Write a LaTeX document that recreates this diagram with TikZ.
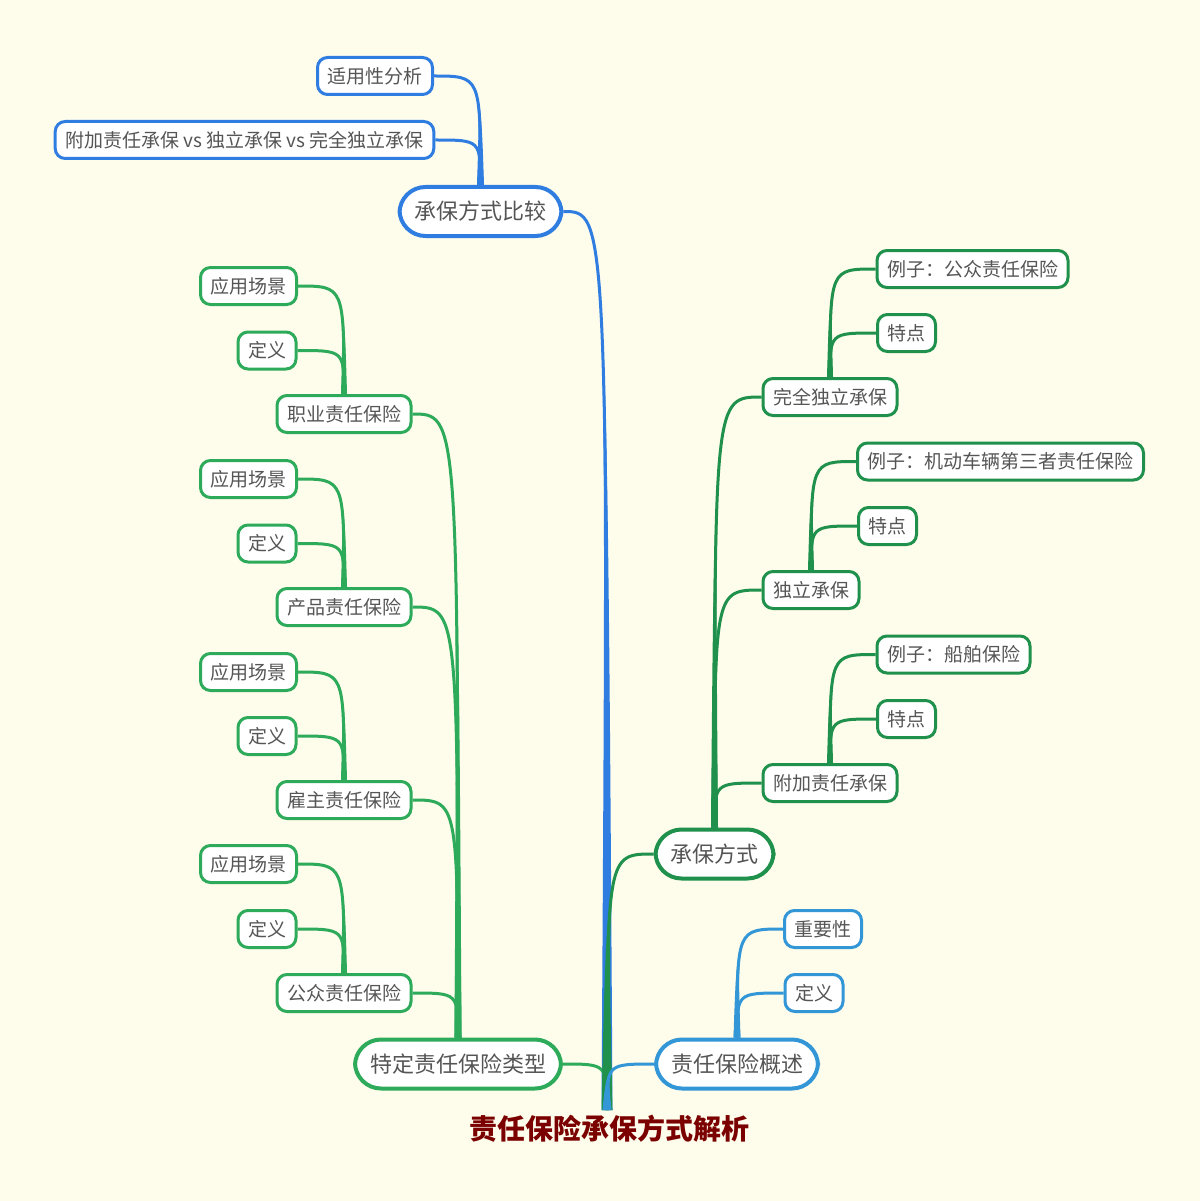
\documentclass[tikz,border=0pt]{standalone}
\usepackage{fontspec}
\setmainfont{Noto Sans CJK SC}
\usetikzlibrary{calc}
\definecolor{bgc}{HTML}{FEFCEB}
\definecolor{cB}{HTML}{2F7DE1}
\definecolor{cG}{HTML}{2EAA5B}
\definecolor{cD}{HTML}{1F914C}
\definecolor{cL}{HTML}{3396D6}
\definecolor{txt}{HTML}{555555}
\definecolor{ttl}{HTML}{7B0000}
\pgfdeclarelayer{back}
\pgfdeclarelayer{paper}
\pgfsetlayers{paper,back,main}
% #1 colour, #2 start, #3 end, #4 half width at end, #5 line width
\newcommand{\conn}[5]{%
  \fill[#1] (#2) .. controls (#3 |- #2) and (#3 |- #2) .. ([xshift=-#4]#3) -- ([xshift=#4]#3) .. controls (#3 |- #2) and (#3 |- #2) .. (#2) -- cycle;
  \draw[#1, line width=#5] (#2) .. controls (#3 |- #2) and (#3 |- #2) .. (#3);
}
\begin{document}
\begin{tikzpicture}[x=1pt,y=-1pt,
  lone/.style={draw=#1, line width=4pt, rounded corners=26pt, fill=white, text=txt,
    font=\fontsize{22pt}{24pt}\selectfont, inner xsep=15pt, minimum height=49pt},
  lthree/.style={draw=#1, line width=3pt, rounded corners=10pt, fill=white, text=txt,
    font=\fontsize{19pt}{21pt}\selectfont, inner xsep=10pt, minimum height=37pt}]
\begin{pgfonlayer}{paper}
\fill[bgc] (0,0) rectangle (1200,1201);
\end{pgfonlayer}
\useasboundingbox (0,0) rectangle (1200,1201);

\coordinate (root) at (607,1110);

% blue branch
\node[lone=cB] (cmp) at (480.5,211.5) {承保方式比较};
\node[lthree=cB] (syx) at (375,76) {适用性分析};
\node[lthree=cB] (vs) at (244.5,140) {附加责任承保 vs 独立承保 vs 完全独立承保};

% green left branch
\node[lone=cG] (tdlx) at (458,1064) {特定责任保险类型};
\node[lthree=cG] (zy) at (344,414) {职业责任保险};
\node[lthree=cG] (zya) at (248.5,286) {应用场景};
\node[lthree=cG] (zyb) at (267,350.5) {定义};
\node[lthree=cG] (cp) at (344,607) {产品责任保险};
\node[lthree=cG] (cpa) at (248.5,479) {应用场景};
\node[lthree=cG] (cpb) at (267,543.5) {定义};
\node[lthree=cG] (gz) at (344,800) {雇主责任保险};
\node[lthree=cG] (gza) at (248.5,672) {应用场景};
\node[lthree=cG] (gzb) at (267,736) {定义};
\node[lthree=cG] (gzh) at (344,993) {公众责任保险};
\node[lthree=cG] (gzha) at (248.5,864) {应用场景};
\node[lthree=cG] (gzhb) at (267,929) {定义};

% dark green branch
\node[lone=cD] (cbfs) at (714.5,854) {承保方式};
\node[lthree=cD] (wq) at (830,397) {完全独立承保};
\node[lthree=cD] (wqa) at (972.5,269) {例子：公众责任保险};
\node[lthree=cD] (wqb) at (906.5,333) {特点};
\node[lthree=cD] (dl) at (811,590) {独立承保};
\node[lthree=cD] (dla) at (1000.5,461.5) {例子：机动车辆第三者责任保险};
\node[lthree=cD] (dlb) at (887.5,526) {特点};
\node[lthree=cD] (fj) at (830,783) {附加责任承保};
\node[lthree=cD] (fja) at (953.5,654.5) {例子：船舶保险};
\node[lthree=cD] (fjb) at (906.5,719) {特点};

% light blue branch
\node[lone=cL] (gs) at (737,1064) {责任保险概述};
\node[lthree=cL] (gsa) at (823,929) {重要性};
\node[lthree=cL] (gsb) at (814,993) {定义};

\node[text=ttl, font=\bfseries\fontsize{28pt}{30pt}\selectfont] (title) at (609,1129) {责任保险承保方式解析};

\begin{pgfonlayer}{back}
\conn{cB}{cmp.east}{root}{5.5pt}{3pt}
\conn{cG}{tdlx.east}{root}{4.5pt}{3pt}
\conn{cD}{cbfs.west}{root}{5.5pt}{3pt}
\conn{cL}{gs.west}{root}{4.5pt}{3pt}

\conn{cB}{syx.east}{cmp.north}{3.5pt}{3pt}
\conn{cB}{vs.east}{cmp.north}{3.5pt}{3pt}

\conn{cG}{zy.east}{tdlx.north}{3.5pt}{3pt}
\conn{cG}{cp.east}{tdlx.north}{3.5pt}{3pt}
\conn{cG}{gz.east}{tdlx.north}{3.5pt}{3pt}
\conn{cG}{gzh.east}{tdlx.north}{3.5pt}{3pt}
\conn{cG}{zya.east}{zy.north}{3pt}{3pt}
\conn{cG}{zyb.east}{zy.north}{3pt}{3pt}
\conn{cG}{cpa.east}{cp.north}{3pt}{3pt}
\conn{cG}{cpb.east}{cp.north}{3pt}{3pt}
\conn{cG}{gza.east}{gz.north}{3pt}{3pt}
\conn{cG}{gzb.east}{gz.north}{3pt}{3pt}
\conn{cG}{gzha.east}{gzh.north}{3pt}{3pt}
\conn{cG}{gzhb.east}{gzh.north}{3pt}{3pt}

\conn{cD}{wq.west}{cbfs.north}{3.5pt}{3pt}
\conn{cD}{dl.west}{cbfs.north}{3.5pt}{3pt}
\conn{cD}{fj.west}{cbfs.north}{3.5pt}{3pt}
\conn{cD}{wqa.west}{wq.north}{3pt}{3pt}
\conn{cD}{wqb.west}{wq.north}{3pt}{3pt}
\conn{cD}{dla.west}{dl.north}{3pt}{3pt}
\conn{cD}{dlb.west}{dl.north}{3pt}{3pt}
\conn{cD}{fja.west}{fj.north}{3pt}{3pt}
\conn{cD}{fjb.west}{fj.north}{3pt}{3pt}

\conn{cL}{gsa.west}{gs.north}{3.5pt}{3pt}
\conn{cL}{gsb.west}{gs.north}{3.5pt}{3pt}
\end{pgfonlayer}
\end{tikzpicture}
\end{document}
